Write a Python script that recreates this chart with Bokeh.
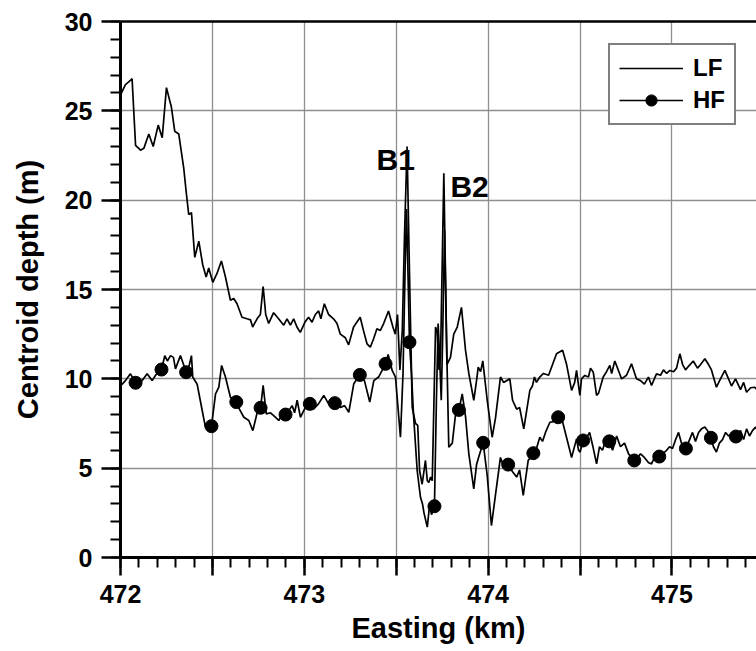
from bokeh.plotting import figure
from bokeh.models import (Range1d, LinearAxis, SingleIntervalTicker, FixedTicker, Legend,
                          LegendItem, Label, CustomJSTickFormatter)
from bokeh.embed import file_html
from bokeh.resources import INLINE

# ---------------- data ----------------
LF_X = [472.000, 472.027, 472.054, 472.063, 472.082, 472.109, 472.127, 472.154, 472.178, 472.205,
        472.227, 472.250, 472.277, 472.295, 472.317, 472.344, 472.357, 472.371, 472.386, 472.404,
        472.426, 472.447, 472.466, 472.480, 472.502, 472.525, 472.549, 472.571, 472.598, 472.616,
        472.634, 472.661, 472.688, 472.707, 472.719, 472.743, 472.761, 472.776, 472.790, 472.806,
        472.833, 472.860, 472.888, 472.906, 472.924, 472.942, 472.960, 472.978, 473.005, 473.023,
        473.042, 473.060, 473.078, 473.090, 473.109, 473.132, 473.159, 473.178, 473.196, 473.223,
        473.241, 473.268, 473.304, 473.322, 473.341, 473.359, 473.377, 473.395, 473.413, 473.431,
        473.458, 473.482, 473.495, 473.507, 473.520, 473.533, 473.545, 473.559, 473.572, 473.587,
        473.605, 473.617, 473.627, 473.641, 473.659, 473.669, 473.677, 473.687, 473.696, 473.714,
        473.723, 473.733, 473.741, 473.759, 473.776, 473.795, 473.813, 473.832, 473.855, 473.877,
        473.895, 473.922, 473.937, 473.946, 473.959, 473.971, 473.995, 474.022, 474.040, 474.067,
        474.084, 474.118, 474.133, 474.155, 474.171, 474.194, 474.227, 474.241, 474.252, 474.263,
        474.281, 474.301, 474.329, 474.345, 474.372, 474.405, 474.427, 474.454, 474.471, 474.481,
        474.499, 474.508, 474.526, 474.546, 474.557, 474.572, 474.590, 474.601, 474.626, 474.644,
        474.662, 474.672, 474.689, 474.704, 474.715, 474.726, 474.753, 474.780, 474.807, 474.829,
        474.850, 474.872, 474.889, 474.916, 474.938, 474.954, 474.971, 474.989, 475.009, 475.025,
        475.043, 475.058, 475.074, 475.090, 475.116, 475.139, 475.156, 475.179, 475.199, 475.215,
        475.242, 475.264, 475.288, 475.308, 475.324, 475.346, 475.373, 475.390, 475.406, 475.428,
        475.451, 475.470]
LF_Y = [25.90, 26.47, 26.70, 26.80, 23.06, 22.80, 22.90, 23.70, 23.00, 24.20,
        23.50, 26.30, 25.20, 23.86, 23.70, 21.80, 20.50, 19.20, 19.30, 16.80,
        17.70, 16.40, 15.70, 16.20, 15.40, 15.90, 16.60, 15.70, 14.40, 14.50,
        14.20, 13.45, 13.36, 13.30, 12.90, 13.36, 13.60, 15.17, 13.60, 13.10,
        13.70, 13.36, 13.00, 13.36, 13.00, 13.36, 12.90, 12.60, 13.20, 13.45,
        13.17, 13.60, 13.80, 13.36, 14.20, 13.60, 13.36, 13.10, 12.50, 12.30,
        11.90, 12.90, 13.45, 12.70, 11.96, 11.77, 12.24, 12.80, 12.70, 13.08,
        13.80, 12.90, 12.50, 13.60, 10.50, 12.70, 18.00, 23.00, 16.00, 8.40,
        7.50, 7.40, 4.87, 4.10, 5.43, 4.30, 4.20, 4.50, 4.30, 12.90,
        12.60, 10.50, 11.20, 21.50, 10.80, 11.20, 12.50, 12.90, 14.00, 11.60,
        10.30, 8.80, 9.90, 10.65, 10.40, 11.00, 8.80, 6.73, 7.80, 10.10,
        9.80, 10.00, 8.80, 8.30, 8.40, 7.20, 9.35, 9.60, 10.10, 9.80,
        10.10, 10.30, 10.20, 10.65, 11.40, 11.60, 10.80, 9.35, 9.80, 10.47,
        9.07, 10.00, 10.19, 10.10, 10.60, 10.37, 9.07, 9.20, 10.10, 10.40,
        10.75, 10.30, 11.00, 10.60, 10.30, 10.00, 10.20, 10.84, 10.00, 9.90,
        9.70, 10.10, 9.63, 10.28, 10.20, 10.50, 10.30, 10.47, 10.40, 10.60,
        11.40, 10.80, 10.50, 10.70, 11.00, 10.60, 10.80, 11.12, 10.80, 10.50,
        9.53, 10.00, 10.47, 10.00, 9.60, 10.00, 9.40, 9.80, 9.25, 9.50,
        9.53, 9.30]

HF_X = [472.000, 472.027, 472.054, 472.082, 472.118, 472.145, 472.172, 472.190, 472.223, 472.241,
        472.255, 472.272, 472.288, 472.299, 472.326, 472.343, 472.357, 472.375, 472.386, 472.393,
        472.417, 472.445, 472.462, 472.495, 472.517, 472.535, 472.550, 472.571, 472.598, 472.630,
        472.647, 472.671, 472.698, 472.720, 472.744, 472.762, 472.776, 472.793, 472.816, 472.838,
        472.861, 472.881, 472.898, 472.914, 472.934, 472.947, 472.961, 472.979, 473.001, 473.030,
        473.050, 473.077, 473.106, 473.132, 473.166, 473.197, 473.219, 473.242, 473.269, 473.302,
        473.327, 473.356, 473.378, 473.404, 473.442, 473.456, 473.478, 473.496, 473.523, 473.537,
        473.548, 473.556, 473.566, 473.572, 473.583, 473.594, 473.614, 473.632, 473.643, 473.651,
        473.669, 473.681, 473.692, 473.708, 473.719, 473.728, 473.735, 473.745, 473.752, 473.763,
        473.774, 473.786, 473.805, 473.823, 473.841, 473.859, 473.877, 473.895, 473.922, 473.937,
        473.948, 473.973, 473.995, 474.018, 474.040, 474.067, 474.084, 474.109, 474.133, 474.155,
        474.171, 474.191, 474.218, 474.246, 474.263, 474.281, 474.296, 474.312, 474.336, 474.356,
        474.381, 474.405, 474.427, 474.454, 474.481, 474.492, 474.500, 474.517, 474.535, 474.552,
        474.568, 474.590, 474.606, 474.622, 474.638, 474.659, 474.677, 474.699, 474.720, 474.742,
        474.764, 474.795, 474.813, 474.829, 474.850, 474.873, 474.889, 474.905, 474.931, 474.949,
        474.971, 474.987, 475.003, 475.020, 475.036, 475.052, 475.076, 475.096, 475.112, 475.128,
        475.145, 475.161, 475.179, 475.194, 475.212, 475.226, 475.242, 475.258, 475.275, 475.292,
        475.308, 475.324, 475.348, 475.373, 475.390, 475.406, 475.422, 475.438, 475.455, 475.470]
HF_Y = [9.60, 9.90, 10.28, 9.78, 9.90, 10.28, 9.90, 10.19, 10.52, 11.30,
        11.00, 11.30, 11.20, 10.56, 11.30, 10.80, 10.37, 10.80, 11.30, 10.10,
        9.70, 8.20, 7.30, 7.35, 9.16, 9.53, 10.75, 10.10, 8.97, 8.70,
        8.30, 7.85, 7.67, 7.10, 8.13, 8.38, 9.63, 8.04, 8.10, 7.90,
        7.67, 8.00, 8.00, 8.20, 8.50, 8.10, 8.80, 7.85, 8.30, 8.60,
        8.30, 8.60, 9.07, 8.60, 8.64, 8.40, 8.50, 8.13, 9.72, 10.22,
        9.90, 8.70, 9.90, 10.10, 10.84, 11.36, 10.47, 10.10, 6.73, 10.30,
        16.00, 19.50, 15.00, 12.05, 10.30, 8.00, 4.87, 3.37, 3.00, 2.50,
        1.70, 2.90, 2.40, 2.87, 9.00, 13.10, 11.50, 8.80, 12.00, 18.30,
        12.00, 6.17, 6.40, 8.04, 8.26, 9.16, 7.90, 5.80, 3.84, 5.20,
        5.60, 6.42, 4.60, 1.79, 3.50, 5.60, 5.10, 5.20, 4.80, 4.50,
        4.90, 3.47, 5.43, 5.84, 6.10, 6.73, 6.50, 7.00, 7.57, 7.60,
        7.85, 7.60, 6.70, 5.60, 6.64, 6.00, 5.90, 6.55, 6.70, 7.00,
        6.30, 5.24, 6.20, 6.00, 6.50, 6.50, 6.00, 6.80, 6.20, 6.40,
        5.80, 5.43, 5.60, 5.80, 5.60, 5.30, 5.24, 5.60, 5.65, 5.80,
        6.00, 6.20, 6.10, 6.60, 7.00, 6.40, 6.10, 6.60, 7.00, 6.50,
        7.00, 7.20, 7.30, 7.10, 6.70, 6.20, 5.90, 6.40, 6.60, 7.00,
        6.80, 6.90, 6.77, 7.10, 6.60, 7.20, 6.80, 7.10, 7.30, 7.00]

HF_MARK_X = [472.082, 472.223, 472.357, 472.495, 472.630, 472.762, 472.898, 473.030, 473.166,
             473.302, 473.442, 473.572, 473.708, 473.841, 473.973, 474.109, 474.246, 474.381,
             474.517, 474.659, 474.795, 474.931, 475.076, 475.212, 475.348]
HF_MARK_Y = [9.78, 10.52, 10.37, 7.35, 8.70, 8.38, 8.00, 8.60, 8.64,
             10.22, 10.84, 12.05, 2.87, 8.26, 6.42, 5.20, 5.84, 7.85,
             6.55, 6.50, 5.43, 5.65, 6.10, 6.70, 6.77]

SERIES_NAMES = ["LF", "HF"]
PEAK_LABELS = ["B1", "B2"]
X_LABEL = "Easting (km)"
Y_LABEL = "Centroid depth (m)"

FONT = "Liberation Sans"

# ---------------- figure ----------------
p = figure(width=756, height=651, output_backend="svg", toolbar_location=None,
           x_range=Range1d(472, 475.46), y_range=Range1d(0, 30),
           min_border_left=120, min_border_right=0, min_border_top=21, min_border_bottom=94)
p.outline_line_color = None
p.background_fill_color = "white"
p.border_fill_color = "white"

xaxis = p.xaxis[0]
yaxis = p.yaxis[0]
xaxis.ticker = SingleIntervalTicker(interval=0.5, num_minor_ticks=5)
yaxis.ticker = SingleIntervalTicker(interval=5, num_minor_ticks=5)
xaxis.formatter = CustomJSTickFormatter(
    code="return (Math.abs(tick - Math.round(tick)) < 1e-6) ? Math.round(tick).toString() : '';")
xaxis.axis_label = X_LABEL
yaxis.axis_label = Y_LABEL
for ax in (xaxis, yaxis):
    ax.axis_line_width = 3
    ax.axis_line_color = "black"
    ax.major_tick_line_color = "black"
    ax.minor_tick_line_color = "black"
    ax.major_tick_line_width = 2.5
    ax.minor_tick_line_width = 2
    ax.major_tick_in = 0
    ax.minor_tick_in = 0
    ax.major_label_text_font = FONT
    ax.major_label_text_font_style = "bold"
    ax.major_label_text_font_size = "25px"
    ax.major_label_text_color = "black"
    ax.axis_label_text_font = FONT
    ax.axis_label_text_font_style = "bold"
    ax.axis_label_text_font_size = "29px"
    ax.axis_label_text_color = "black"
xaxis.major_tick_out = 18
xaxis.minor_tick_out = 10
xaxis.major_label_standoff = 9
xaxis.axis_label_standoff = 6
yaxis.major_tick_out = 19
yaxis.minor_tick_out = 10
yaxis.major_label_standoff = 9
yaxis.axis_label_standoff = 18

top = LinearAxis(ticker=FixedTicker(ticks=[]), major_label_text_font_size="0px",
                 axis_line_width=2.5, major_tick_line_color=None, minor_tick_line_color=None)
p.add_layout(top, "above")

p.xgrid[0].ticker = xaxis.ticker
p.ygrid[0].ticker = yaxis.ticker
for g in (p.xgrid[0], p.ygrid[0]):
    g.grid_line_color = "#8f8f8f"
    g.grid_line_width = 1.3
    g.grid_line_alpha = 1.0

lf = p.line(LF_X, LF_Y, line_color="black", line_width=1.7)
hfl = p.line(HF_X, HF_Y, line_color="black", line_width=1.7)
hfs = p.scatter(HF_MARK_X, HF_MARK_Y, marker="circle", size=13,
                fill_color="black", line_color="black")

legend = Legend(items=[LegendItem(label=SERIES_NAMES[0], renderers=[lf]),
                       LegendItem(label=SERIES_NAMES[1], renderers=[hfl, hfs])],
                location=(488, 432),
                label_text_font=FONT, label_text_font_style="bold",
                label_text_font_size="24px", label_text_color="black",
                glyph_width=64, glyph_height=28, label_height=28,
                label_standoff=10, spacing=4, padding=9, margin=0,
                border_line_color="black", border_line_width=2,
                background_fill_color="white", background_fill_alpha=1.0)
p.add_layout(legend)

for txt, x, y in ((PEAK_LABELS[0], 473.393, 22.26), (PEAK_LABELS[1], 473.795, 20.78)):
    p.add_layout(Label(x=x, y=y, text=txt, text_font=FONT, text_font_style="bold",
                       text_font_size="30px", text_color="black",
                       text_align="left", text_baseline="alphabetic"))

open("out.html", "w").write(file_html(p, INLINE))
